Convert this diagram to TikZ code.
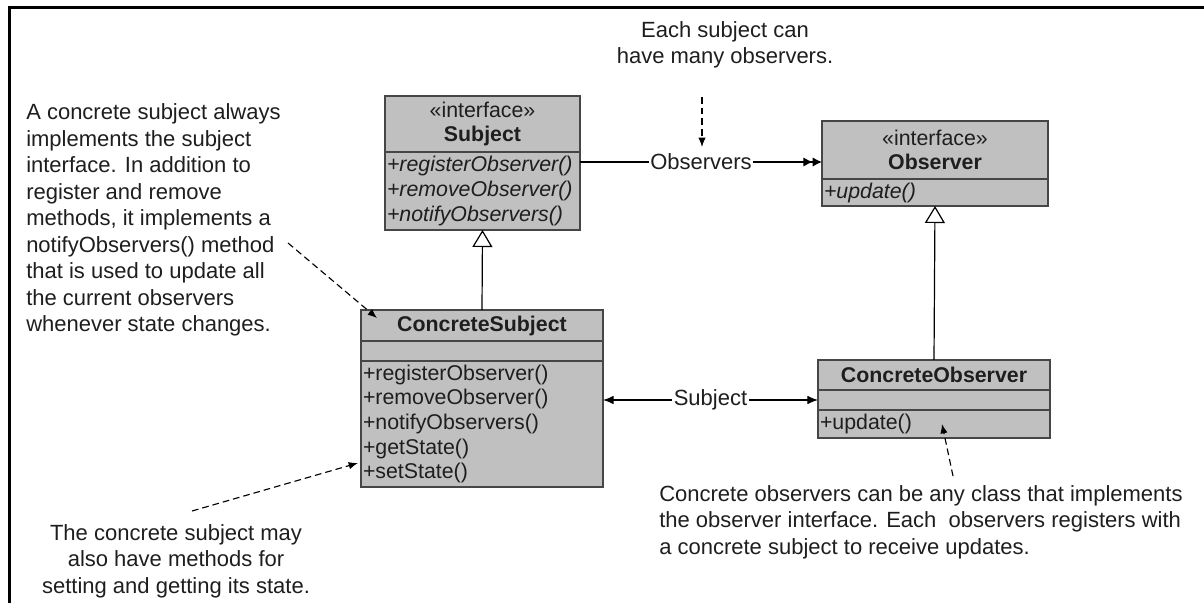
\documentclass[tikz,border=0pt]{standalone}
\usepackage{fontspec}
\setmainfont{Liberation Sans}
\usetikzlibrary{arrows.meta}
\usetikzlibrary{positioning}
\definecolor{boxgray}{RGB}{192,192,192}
\definecolor{edgegray}{RGB}{70,70,70}
\definecolor{inkgray}{RGB}{30,30,30}

\tikzset{
  classpart/.style={draw=edgegray, fill=boxgray, line width=1.1pt, inner sep=0pt, outer sep=0pt,
    font=\fontsize{16}{18.4}\selectfont, text=inkgray},
  head/.style={classpart, align=center},
  ops/.style={classpart, align=left, inner xsep=1.5pt},
  note/.style={font=\fontsize{16.5}{19.9}\selectfont, text=inkgray, inner sep=0pt},
  tag/.style={fill=white, inner sep=1pt, font=\fontsize{16.5}{19.9}\selectfont, text=inkgray},
  hint/.style={dash pattern=on 5pt off 3pt, line width=0.85pt, -{Latex[length=7pt,width=5.5pt]}},
  assoc/.style={line width=0.9pt},
  inherit/.style={line width=0.9pt, -{Triangle[fill=white,length=12.75pt,width=15pt]}}
}

\begin{document}
\begin{tikzpicture}[x=0.75pt,y=-0.75pt]
\useasboundingbox (0,0) rectangle (1204,603);
\draw[line width=2.25pt, line join=miter] (1204,7) -- (9,7) -- (9,603);

% interfaces
\node[head, anchor=north west, minimum width=146.25pt, minimum height=42pt] (subj) at (385,96)
  {«interface»\\\textbf{Subject}};
\node[ops, text width=143.25pt, minimum height=58.5pt, below=0pt of subj] (subjops)
  {\itshape +registerObserver()\\+removeObserver()\\+notifyObservers()};

\node[head, anchor=north west, minimum width=169.5pt, minimum height=43.5pt] (obs) at (822,121)
  {«interface»\\\textbf{Observer}};
\node[ops, text width=166.5pt, minimum height=20.25pt, below=0pt of obs] (obsops)
  {\itshape +update()};

% concrete classes
\node[head, anchor=north west, minimum width=181.5pt, minimum height=23.25pt] (cshead) at (361,310)
  {\textbf{ConcreteSubject}};
\node[classpart, minimum width=181.5pt, minimum height=15pt, below=0pt of cshead] (csattr) {};
\node[ops, text width=178.5pt, minimum height=94.5pt, below=0pt of csattr] (csops)
  {+registerObserver()\\+removeObserver()\\+notifyObservers()\\+getState()\\+setState()};

\node[head, anchor=north west, minimum width=174pt, minimum height=22.5pt] (cohead) at (818,360)
  {\textbf{ConcreteObserver}};
\node[classpart, minimum width=174pt, minimum height=15pt, below=0pt of cohead] (coattr) {};
\node[ops, text width=171pt, minimum height=21pt, below=0pt of coattr] (coops)
  {+update()};

% relations
\draw[inherit] (cshead.north) -- (subjops.south);
\draw[inherit] (cohead.north) -- (obsops.south);

\coordinate (obsfrom) at ([yshift=-7.5pt]subjops.north east);
\draw[assoc, -{Latex[length=7pt,width=7pt]Latex[length=7pt,width=7pt]}]
  (obsfrom) -- node[tag] (obslabel) {Observers} (obsfrom -| obs.west);

\coordinate (subjto) at (coattr.west);
\draw[assoc, {Latex[length=8pt,width=6.5pt]}-{Latex[length=8pt,width=6.5pt]}]
  (subjto -| csops.east) -- node[tag] (subjlabel) {Subject} (subjto);

% notes
\node[note, align=center] (manynote) at (725,45) {Each subject can\\have many observers.};
\node[note, align=left, anchor=west] (implnote) at (26,220)
  {A concrete subject always\\implements the subject\\interface. In addition to\\register and remove\\methods, it implements a\\notifyObservers() method\\that is used to update all\\the current observers\\whenever state changes.};
\node[note, align=center] (statenote) at (176,561)
  {The concrete subject may\\also have methods for\\setting and getting its state.};
\node[note, align=left, anchor=west] (updnote) at (659,522)
  {Concrete observers can be any class that implements\\the observer interface. Each\ \ observers registers with\\a concrete subject to receive updates.};

\coordinate (t1) at (702,97);
\coordinate (h1) at (702,147);
\coordinate (t2) at (288,243);
\coordinate (h2) at (377,318);
\coordinate (t3) at (192,511);
\coordinate (h3) at (358,463);
\coordinate (t4) at (953,476);
\coordinate (h4) at (942,424);
\draw[hint] (t1) -- (h1);
\draw[hint] (t2) -- (h2);
\draw[hint] (t3) -- (h3);
\draw[hint] (t4) -- (h4);
\end{tikzpicture}
\end{document}
